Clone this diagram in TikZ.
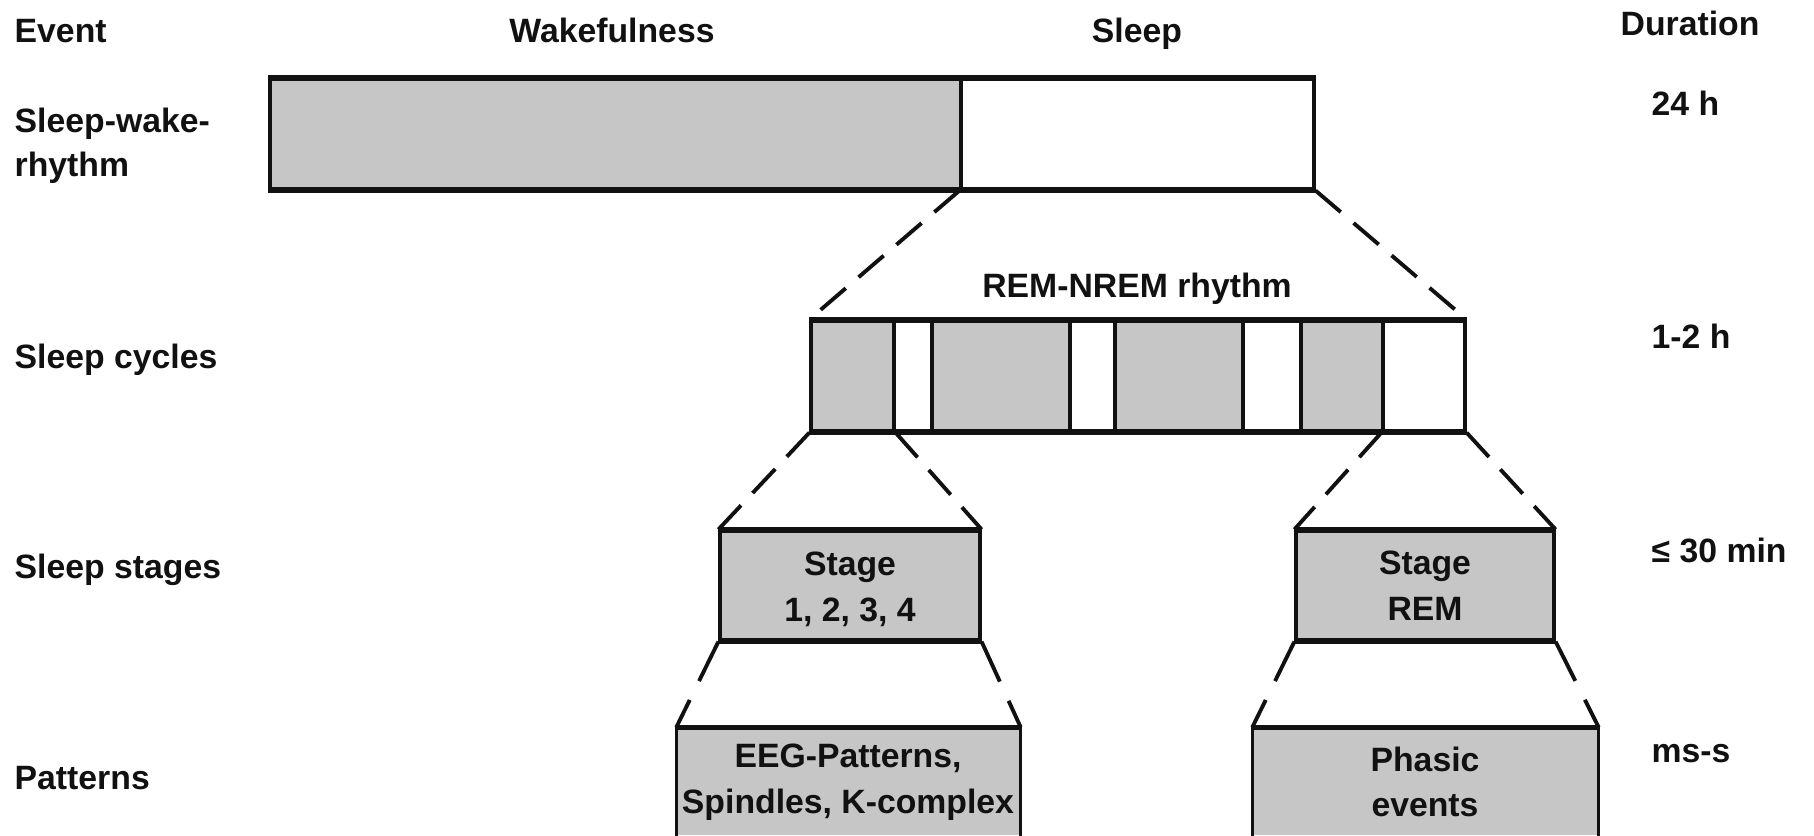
\documentclass[tikz,border=0pt]{standalone}
\usepackage{fontspec}
\setmainfont{Liberation Sans}
\usepackage{xcolor}
\usepackage{tikz}
\usetikzlibrary{fit}
\definecolor{cInk}{HTML}{111111}
\definecolor{cDot}{HTML}{C6C6C6}
\tikzset{
  blk/.style={draw=cInk, line width=0.9pt, fill=cDot, inner sep=0pt},
  blkW/.style={blk, fill=white},
  rim/.style={cInk, line width=1.6pt},
  zoom/.style={cInk, line width=1.1pt, dash pattern=on 9.4pt off 4.8pt},
  zoomB/.style={cInk, line width=1.1pt, dash pattern=on 12.5pt off 6pt},
  txt/.style={font=\fontsize{9.6}{12.6}\selectfont\bfseries, text=cInk, inner sep=0pt},
  inb/.style={txt, align=center, font=\fontsize{9.6}{13}\selectfont\bfseries}
}

\begin{document}
\begin{tikzpicture}[x=0.01cm, y=-0.01cm]
\useasboundingbox (0,0) rectangle (1814,835);
\node[txt, anchor=base west] (hEvent) at (14,42) {Event};
\node[txt, anchor=base] (hWake) at (612,42) {Wakefulness};
\node[txt, anchor=base] (hSleep) at (1137,42) {Sleep};
\node[txt, anchor=base west] (hDur) at (1620,35) {Duration};
\node[txt, anchor=north west, align=left] (lRhythm) at (14,107) {Sleep-wake-\\rhythm};
\node[txt, anchor=base west] (lCycles) at (14,368) {Sleep cycles};
\node[txt, anchor=base west] (lStages) at (14,578) {Sleep stages};
\node[txt, anchor=base west] (lPatt) at (14,789) {Patterns};
\foreach \y/\t [count=\i] in {115/24 h, 348/1-2 h, 562/≤ 30 min, 762/ms-s}
  \node[txt, anchor=base west] (dur\i) at (1651,\y) {\t};
\node[blk, fit={(270,79) (961,189)}] (wake) {};
\node[blkW, fit={(961,79) (1314,189)}] (sleep) {};
\draw[rim] (wake.north west) -- (sleep.north east);
\draw[rim] (wake.south west) -- (sleep.south east);
\node[txt, anchor=base] (lRem) at (1137,297) {REM-NREM rhythm};
\foreach \a/\b/\f [count=\i] in {811/894/cDot, 894/932/white, 932/1070/cDot,
    1070/1115/white, 1115/1243/cDot, 1243/1301/white, 1301/1383/cDot, 1383/1465/white}
  \node[blk, fill=\f, fit={(\a,321) (\b,431)}] (cyc\i) {};
\draw[rim] (cyc1.north west) -- (cyc8.north east);
\draw[rim] (cyc1.south west) -- (cyc8.south east);
\node[blk, fit={(720,531) (980,640)}] (stN) {};
\node[blk, fit={(1296,531) (1554,640)}] (stR) {};
\draw[rim] (stN.north west) -- (stN.north east);
\draw[rim] (stN.south west) -- (stN.south east);
\draw[rim] (stR.north west) -- (stR.north east);
\draw[rim] (stR.south west) -- (stR.south east);
\node[inb] (tN) at ([yshift=-1.1pt]stN.center) {Stage\\1, 2, 3, 4};
\node[inb] (tR) at (stR) {Stage\\REM};
\node[fill=cDot, inner sep=0pt, fit={(677,728) (1020,835)}] (patN) {};
\node[fill=cDot, inner sep=0pt, fit={(1253,728) (1598,835)}] (patR) {};
\draw[cInk, line width=0.9pt] (patN.south west) -- (patN.north west) -- (patN.north east) -- (patN.south east);
\draw[cInk, line width=0.9pt] (patR.south west) -- (patR.north west) -- (patR.north east) -- (patR.south east);
\draw[rim] (patN.north west) -- (patN.north east);
\draw[rim] (patR.north west) -- (patR.north east);
\node[inb] (pN) at (848,782) {EEG-Patterns,\\Spindles, K-complex};
\node[inb] (pR) at (1425,782) {Phasic\\events};
\draw[zoom] (sleep.south west) -- (cyc1.north west);
\draw[zoom] (sleep.south east) -- (cyc8.north east);
\draw[zoom] (cyc1.south west) -- (stN.north west);
\draw[zoom] (cyc1.south east) -- (stN.north east);
\draw[zoom] (cyc8.south west) -- (stR.north west);
\draw[zoom] (cyc8.south east) -- (stR.north east);
\draw[zoomB] (stN.south west) -- (patN.north west);
\draw[zoomB] (stN.south east) -- (patN.north east);
\draw[zoomB] (stR.south west) -- (patR.north west);
\draw[zoomB] (stR.south east) -- (patR.north east);
\end{tikzpicture}
\end{document}
